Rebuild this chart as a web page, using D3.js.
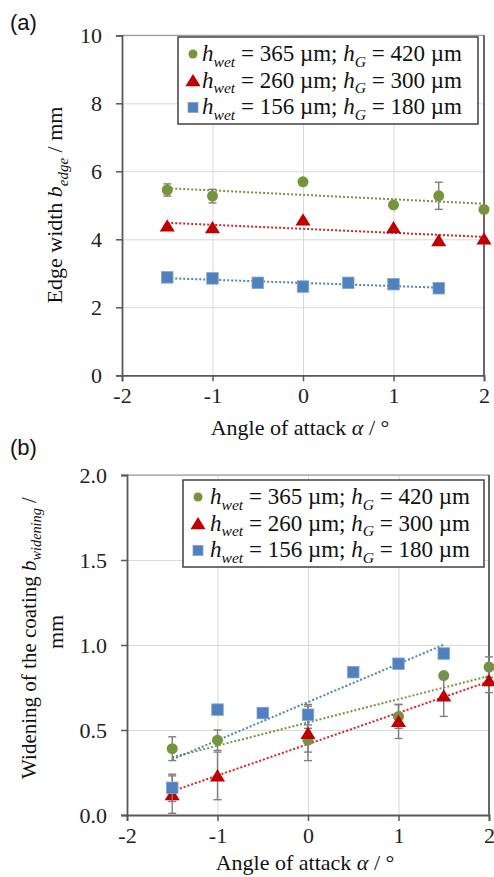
<!DOCTYPE html>
<html>
<head>
<meta charset="utf-8">
<script src="https://cdn.jsdelivr.net/npm/d3@7"></script>
<style>
  body { margin: 0; background: #fff; }
  svg { display: block; }
  svg text { font-family: "Liberation Serif", "DejaVu Serif", "Noto Serif", "Times New Roman", Times, serif; }
  .tick text { font-size: 22px; fill: #222; }
  .letter { font-family: "Liberation Sans", Arial, sans-serif !important; }
</style>
</head>
<body>
<script>
// legend labels: [wet, G]
var seriesLabels = [["365", "420"], ["260", "300"], ["156", "180"]];
var seriesColors = ["#77933c", "#c00000", "#4f81bd"];
var trendColors = ["#77933c", "#e02020", "#4f81bd"];
var seriesShapes = ["circle", "triangle", "square"];

// panel (a): edge width
var aGreenX = [-1.5, -1, 0, 1, 1.5, 2];
var aGreenY = [5.45, 5.27, 5.69, 5.01, 5.28, 4.88];
var aGreenErr = [0.18, 0.2, 0, 0, 0.4, 0];
var aRedX = [-1.5, -1, 0, 1, 1.5, 2];
var aRedY = [4.39, 4.34, 4.57, 4.34, 3.96, 4.01];
var aRedErr = [0, 0, 0, 0, 0, 0];
var aBlueX = [-1.5, -1, -0.5, 0, 0.5, 1, 1.5];
var aBlueY = [2.88, 2.85, 2.72, 2.61, 2.72, 2.68, 2.56];
var aBlueErr = [0, 0, 0, 0, 0, 0, 0];
var aYTicks = [0, 2, 4, 6, 8, 10];

// panel (b): widening of the coating
var bGreenX = [-1.5, -1, 0, 1, 1.5, 2];
var bGreenY = [0.39, 0.44, 0.44, 0.58, 0.82, 0.87];
var bGreenErr = [0.07, 0.06, 0.07, 0.07, 0, 0.06];
var bRedX = [-1.5, -1, 0, 1, 1.5, 2];
var bRedY = [0.12, 0.23, 0.48, 0.55, 0.70, 0.79];
var bRedErr = [0.11, 0.14, 0.16, 0.1, 0.12, 0.07];
var bBlueX = [-1.5, -1, -0.5, 0, 0.5, 1, 1.5];
var bBlueY = [0.16, 0.62, 0.60, 0.59, 0.84, 0.89, 0.95];
var bBlueErr = [0.08, 0, 0, 0.06, 0, 0, 0];
var bYTicks = [0, 0.5, 1.0, 1.5, 2.0];

var xTicks = [-2, -1, 0, 1, 2];

var svg = d3.select('body').append('svg')
  .attr('width', 494)
  .attr('height', 877);

function zip(xs, ys, es) {
  return xs.map(function(x, i) { return {x: x, y: ys[i], e: es[i]}; });
}

function fit(pts) {
  var mx = d3.mean(pts, function(d) { return d.x; });
  var my = d3.mean(pts, function(d) { return d.y; });
  var sxy = d3.sum(pts, function(d) { return (d.x - mx) * (d.y - my); });
  var sxx = d3.sum(pts, function(d) { return (d.x - mx) * (d.x - mx); });
  var k = sxy / sxx;
  return function(x) { return my + k * (x - mx); };
}

function drawMarker(g, shape, color, cx, cy, s) {
  if (shape == 'circle') {
    g.append('circle').attr('cx', cx).attr('cy', cy).attr('r', s * 0.5).attr('fill', color);
  } else if (shape == 'triangle') {
    var h = s * 0.95;
    g.append('path')
      .attr('d', 'M' + cx + ',' + (cy - h * 0.55) + 'L' + (cx + s * 0.58) + ',' + (cy + h * 0.45) +
        'L' + (cx - s * 0.58) + ',' + (cy + h * 0.45) + 'Z')
      .attr('fill', color);
  } else {
    g.append('rect').attr('x', cx - s / 2).attr('y', cy - s / 2)
      .attr('width', s).attr('height', s).attr('fill', color)
      .attr('stroke', '#7fa3d6').attr('stroke-width', 0.8);
  }
}

function subLabel(text, parts, size) {
  // parts: list of [string, italic, sub]
  parts.forEach(function(p, i) {
    var prevSub = i > 0 && parts[i - 1][2];
    var t = text.append('tspan').text(p[0]);
    if (p[1]) t.attr('font-style', 'italic');
    if (p[2]) {
      t.attr('font-size', size * 0.68).attr('dy', size * 0.25);
    } else if (prevSub) {
      t.attr('dy', -size * 0.25);
    }
  });
}

function drawPanel(cfg) {
  var x = d3.scaleLinear().domain([-2, 2]).range([cfg.left, cfg.right]);
  var y = d3.scaleLinear().domain(cfg.yDomain).range([cfg.bottom, cfg.top]);
  var w = cfg.right - cfg.left;

  // grid
  svg.append('g')
    .attr('transform', 'translate(' + cfg.left + ',0)')
    .call(d3.axisLeft(y).tickValues(cfg.yTicks).tickSize(-w).tickFormat(''))
    .call(function(g) {
      g.select('.domain').remove();
      g.selectAll('line').attr('stroke', '#d9d9d9').attr('stroke-width', 1);
    });
  svg.append('g')
    .attr('transform', 'translate(0,' + cfg.bottom + ')')
    .call(d3.axisBottom(x).tickValues(xTicks).tickSize(-(cfg.bottom - cfg.top)).tickFormat(''))
    .call(function(g) {
      g.select('.domain').remove();
      g.selectAll('line').attr('stroke', '#d9d9d9').attr('stroke-width', 1);
    });

  // plot border top/right
  svg.append('line').attr('x1', cfg.left).attr('x2', cfg.right)
    .attr('y1', cfg.top).attr('y2', cfg.top).attr('stroke', '#8c8c8c').attr('stroke-width', 1);
  svg.append('line').attr('x1', cfg.right).attr('x2', cfg.right)
    .attr('y1', cfg.top).attr('y2', cfg.bottom).attr('stroke', '#595959').attr('stroke-width', 1.8);

  // axes
  svg.append('g')
    .attr('transform', 'translate(' + cfg.left + ',0)')
    .call(d3.axisLeft(y).tickValues(cfg.yTicks).tickSize(6).tickPadding(14).tickFormat(cfg.yFormat))
    .call(function(g) {
      g.attr('font-family', null);
      g.select('.domain').attr('stroke', '#595959').attr('stroke-width', 1.8);
      g.selectAll('line').attr('stroke', '#595959').attr('stroke-width', 1.5);
    });
  svg.append('g')
    .attr('transform', 'translate(0,' + cfg.bottom + ')')
    .call(d3.axisBottom(x).tickValues(xTicks).tickSize(6).tickPadding(6).tickFormat(d3.format('d')))
    .call(function(g) {
      g.attr('font-family', null);
      g.select('.domain').attr('stroke', '#595959').attr('stroke-width', 1.8);
      g.selectAll('line').attr('stroke', '#595959').attr('stroke-width', 1.5);
      g.selectAll('text').text(function(d) { return d < 0 ? '-' + Math.abs(d) : d; });
    });

  // series
  cfg.series.forEach(function(pts, si) {
    var f = fit(pts);
    var x0 = d3.min(pts, function(d) { return d.x; });
    var x1 = d3.max(pts, function(d) { return d.x; });
    svg.append('line')
      .attr('x1', x(x0)).attr('y1', y(f(x0)))
      .attr('x2', x(x1)).attr('y2', y(f(x1)))
      .attr('stroke', trendColors[si]).attr('stroke-width', 2)
      .attr('stroke-dasharray', '2,2');
  });
  cfg.series.forEach(function(pts, si) {
    var g = svg.append('g');
    pts.forEach(function(d) {
      if (d.e > 0) {
        var eb = g.append('g').attr('stroke', '#7f7f7f').attr('stroke-width', 1.4);
        eb.append('line').attr('x1', x(d.x)).attr('x2', x(d.x))
          .attr('y1', y(d.y - d.e)).attr('y2', y(d.y + d.e));
        [d.y - d.e, d.y + d.e].forEach(function(v) {
          eb.append('line').attr('x1', x(d.x) - 4).attr('x2', x(d.x) + 4)
            .attr('y1', y(v)).attr('y2', y(v));
        });
      }
      drawMarker(g, seriesShapes[si], seriesColors[si], x(d.x), y(d.y), cfg.markerSize[si]);
    });
  });

  // legend
  var lg = svg.append('g');
  lg.append('rect')
    .attr('x', cfg.legend.x).attr('y', cfg.legend.y)
    .attr('width', cfg.legend.w).attr('height', cfg.legend.h)
    .attr('fill', '#fff').attr('stroke', '#404040').attr('stroke-width', 1.5);
  seriesLabels.forEach(function(lab, i) {
    var by = cfg.legend.y + 24 + i * 26.7;
    drawMarker(lg, seriesShapes[i], seriesColors[i], cfg.legend.mx, by - 7, [9, 13, 10][i]);
    var t = lg.append('text')
      .attr('x', cfg.legend.tx).attr('y', by)
      .attr('font-size', 23).attr('fill', '#111');
    subLabel(t, [['h', true, false], ['wet', true, true], [' = ' + lab[0] + ' µm; ', false, false],
      ['h', true, false], ['G', true, true], [' = ' + lab[1] + ' µm', false, false]], 23);
  });

  // x title
  var xt = svg.append('text')
    .attr('x', (cfg.left + cfg.right) / 2 - 3).attr('y', cfg.titleY)
    .attr('text-anchor', 'middle')
    .attr('font-size', 22).attr('fill', '#111');
  xt.append('tspan').text('Angle of attack ');
  xt.append('tspan').attr('font-style', 'italic').text('α');
  xt.append('tspan').text(' / °');

  // panel letter
  svg.append('text')
    .attr('class', 'letter')
    .attr('x', 10).attr('y', cfg.letterY)
    .attr('font-size', 22).attr('fill', '#111')
    .text(cfg.letter);
}

drawPanel({
  left: 122, right: 484, top: 35.3, bottom: 375.3,
  yDomain: [0, 10], yTicks: aYTicks, yFormat: d3.format('d'),
  series: [zip(aGreenX, aGreenY, aGreenErr), zip(aRedX, aRedY, aRedErr), zip(aBlueX, aBlueY, aBlueErr)],
  markerSize: [11, 13, 11.5],
  legend: {x: 178, y: 37, w: 300, h: 87, mx: 193, tx: 202},
  titleY: 435,
  letter: '(a)', letterY: 30
});

drawPanel({
  left: 127, right: 489, top: 475, bottom: 815,
  yDomain: [0, 2], yTicks: bYTicks, yFormat: d3.format('.1f'),
  series: [zip(bGreenX, bGreenY, bGreenErr), zip(bRedX, bRedY, bRedErr), zip(bBlueX, bBlueY, bBlueErr)],
  markerSize: [11, 13, 11.5],
  legend: {x: 183, y: 480, w: 301, h: 87, mx: 198, tx: 210},
  titleY: 870,
  letter: '(b)', letterY: 455
});

// y titles
var yt1 = svg.append('text')
  .attr('transform', 'translate(62,205) rotate(-90)')
  .attr('text-anchor', 'middle')
  .attr('font-size', 22).attr('fill', '#111');
yt1.append('tspan').text('Edge width ');
subLabel(yt1, [['b', true, false], ['edge', true, true], [' / mm', false, false]], 22);

var yt2 = svg.append('text')
  .attr('transform', 'translate(36,638) rotate(-90)')
  .attr('text-anchor', 'middle')
  .attr('font-size', 21).attr('fill', '#111');
yt2.append('tspan').text('Widening of the coating ');
subLabel(yt2, [['b', true, false], ['widening', true, true], [' /', false, false]], 21);

svg.append('text')
  .attr('transform', 'translate(63,632) rotate(-90)')
  .attr('text-anchor', 'middle')
  .attr('font-size', 22).attr('fill', '#111')
  .text('mm');
</script>
</body>
</html>
